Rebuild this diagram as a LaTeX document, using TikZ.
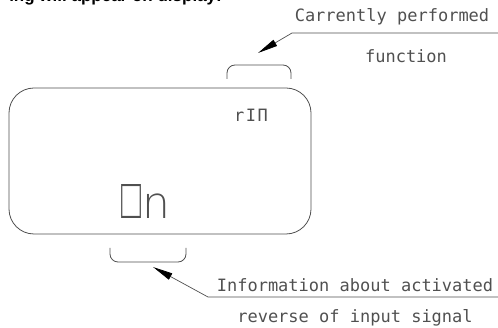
\documentclass[tikz,border=0pt]{standalone}
\usepackage{fontspec}
\usepackage{graphicx}
\usetikzlibrary{arrows.meta,positioning}
\setmainfont{Liberation Sans}
\newfontfamily\cadfont{DejaVu Sans Mono}
\newfontfamily\lcdfont{DejaVuSans-ExtraLight.ttf}
\definecolor{cgray}{RGB}{80,80,80}
\tikzset{
  panel/.style ={rectangle, rounded corners=25pt, draw=cgray, line width=0.8pt,
                 minimum width=302pt, minimum height=146pt},
  lbl/.style   ={font=\cadfont\fontsize{17pt}{17pt}\selectfont, text=cgray,
                 anchor=base, inner sep=0pt},
  lcd/.style   ={text=cgray, anchor=base west, inner sep=0pt},
  brk/.style   ={draw=cgray, line width=0.8pt, rounded corners=8pt},
  lead/.style  ={draw=cgray, line width=0.7pt},
  ar/.style    ={lead, -{Triangle[length=20pt,width=7pt,color=black]}}
}

\begin{document}
\begin{tikzpicture}[x=1pt,y=-1pt]
\useasboundingbox (0,0) rectangle (498,328);
\clip (0,0) rectangle (498,328);

\node[font=\bfseries\fontsize{17pt}{17pt}\selectfont, anchor=base east, inner sep=0pt]
  (head) at (222,2) {ing will appear on display:};

% display window
\node[panel] (disp) at (160,161) {};
\node[lcd, font=\cadfont\fontsize{17pt}{17pt}\selectfont] (func) at (234,122)
  {r\hspace{1.5pt}I\hspace{1.5pt}Π};
\node[lcd] (onoff) at (121,219)
  {\resizebox{20pt}{34pt}{□}\hspace{1pt}{\lcdfont\fontsize{44pt}{44pt}\selectfont n}};

% brackets
\draw[brk] (227,79) -- (227,65) -- (291,65) -- (291,79);
\draw[brk] (110,248) -- (110,262) -- (186,262) -- (186,248);

% upper label
\node[lbl] (cur)  at (392,22) {Carrently performed};
\node[lbl] (fun)  at (406,63) {function};
\coordinate (ue) at (498,33);
\coordinate (uk) at (292,33);
\coordinate (ut) at (258,53);
\draw[ar] (ue) -- (uk) -- (ut);

% lower label
\node[lbl] (inf)  at (355,292) {Information about activated};
\node[lbl] (rev)  at (355,323) {reverse of input signal};
\coordinate (le) at (498,297);
\coordinate (lk) at (208,297);
\coordinate (lt) at (153,267);
\draw[ar] (le) -- (lk) -- (lt);
\end{tikzpicture}
\end{document}
